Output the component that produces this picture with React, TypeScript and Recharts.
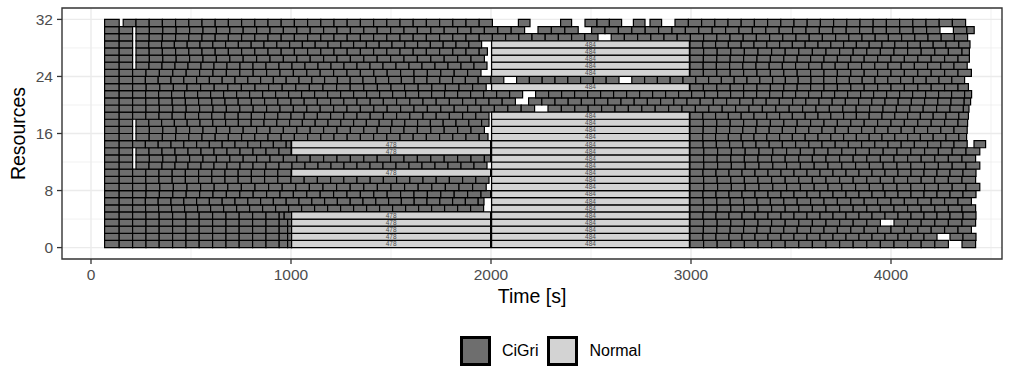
import React from 'react';
import { ComposedChart, XAxis, YAxis, CartesianGrid, ReferenceArea, Legend, Scatter } from 'recharts';

const FONT = '"Liberation Sans", Arial, sans-serif';
const CIGRI_FILL = '#6e6e6e';
const NORMAL_FILL = '#d3d3d3';

const xTicks = [0, 1000, 2000, 3000, 4000];
const xMinor = [500, 1500, 2500, 3500, 4500];
const yTicks = [0, 8, 16, 24, 32];
const yMinor = [4, 12, 20, 28];
const xDomain = [-145, 4555];
const yDomain = [-1.6, 33.6];

// CiGri jobs, one entry per resource (0 = bottom row).
// Each block lists consecutive job boundaries in seconds; a break between blocks is an idle gap.
const cigriRows: number[][][] = [
  [[68,141,208,275,341,408,475,541,608,675,741,808,875,941,983,1003],[2995,3063,3131,3199,3267,3335,3403,3471,3539,3607,3675,3743,3811,3879,3947,4015,4083,4151,4219,4287],[4355,4423]],
  [[68,141,208,275,341,408,475,541,608,675,741,808,875,941,983,1003],[2995,3060,3125,3190,3255,3320,3385,3450,3515,3580,3645,3710,3775,3840,3905,3970,4035,4100,4165,4230],[4295,4360,4425]],
  [[68,141,208,275,341,408,475,541,608,675,741,808,875,941,983,1003],[2995,3062,3129,3196,3263,3330,3397,3464,3531,3598,3665,3732,3799,3866,3933,4000,4067,4134,4201,4268,4335,4402]],
  [[68,141,208,275,341,408,475,541,608,675,741,808,875,941,983,1003],[2995,3063,3131,3199,3267,3335,3403,3471,3539,3607,3675,3743,3811,3879,3947],[4015,4083,4151,4219,4287,4355,4423]],
  [[68,141,208,275,341,408,475,541,608,675,741,808,875,941,966,1003],[2995,3060,3125,3190,3255,3320,3385,3450,3515,3580,3645,3710,3775,3840,3905,3970,4035,4100,4165,4230,4295,4360,4425]],
  [[68,141,208,273,338,403,468,533,598,663,728,793,858,923,988,1053,1118,1183,1248,1313,1378,1443,1508,1573,1638,1703,1768,1833,1898,1963],[2995,3063,3131,3199,3267,3335,3403,3471,3539,3607,3675,3743,3811,3879,3947,4015,4083,4151,4219,4287,4355,4423]],
  [[68,141,208,272,336,400,464,528,592,656,720,784,848,912,976,1040,1104,1168,1232,1296,1360,1424,1488,1552,1616,1680,1744,1808,1872,1936,1965],[2995,3062,3129,3196,3263,3330,3397,3464,3531,3598,3665,3732,3799,3866,3933,4000,4067,4134,4201,4268,4335,4402]],
  [[68,141,208,275,342,409,476,543,610,677,744,811,878,945,1012,1079,1146,1213,1280,1347,1414,1481,1548,1615,1682,1749,1816,1883,1950,1998],[2995,3060,3125,3190,3255,3320,3385,3450,3515,3580,3645,3710,3775,3840,3905,3970,4035,4100,4165,4230,4295,4360,4425]],
  [[68,141,208,276,344,412,480,548,616,684,752,820,888,956,1024,1092,1160,1228,1296,1364,1432,1500,1568,1636,1704,1772,1840,1908,1976],[2995,3064,3133,3202,3271,3340,3409,3478,3547,3616,3685,3754,3823,3892,3961,4030,4099,4168,4237,4306,4375,4444]],
  [[68,141,208,274,340,406,472,538,604,670,736,802,868,934,1000,1066,1132,1198,1264,1330,1396,1462,1528,1594,1660,1726,1792,1858,1924,1990],[2995,3063,3131,3199,3267,3335,3403,3471,3539,3607,3675,3743,3811,3879,3947,4015,4083,4151,4219,4287,4355,4423]],
  [[68,141,208,274,340,406,472,538,604,670,736,802,868,934,1000],[2995,3060,3125,3190,3255,3320,3385,3450,3515,3580,3645,3710,3775,3840,3905,3970,4035,4100,4165,4230,4295,4360,4425]],
  [[68,141,208],[225,290,355,420,485,550,615,680,745,810,875,940,1005,1070,1135,1200,1265,1330,1395,1460,1525,1590,1655,1720,1785,1850,1915,1980],[2995,3064,3133,3202,3271,3340,3409,3478,3547,3616,3685,3754,3823,3892,3961,4030,4099,4168,4237,4306,4375,4444]],
  [[68,141,208],[225,292,359,426,493,560,627,694,761,828,895,962,1029,1096,1163,1230,1297,1364,1431,1498,1565,1632,1699,1766,1833,1900,1967,1998],[2995,3063,3131,3199,3267,3335,3403,3471,3539,3607,3675,3743,3811,3879,3947,4015,4083,4151,4219,4287,4355,4423]],
  [[68,141,208],[225,290,355,420,485,550,615,680,745,810,875,940,1000],[2995,3064,3133,3202,3271,3340,3409,3478,3547,3616,3685,3754,3823,3892,3961,4030,4099,4168,4237,4306,4375,4444]],
  [[68,141,208,272,336,400,464,528,592,656,720,784,848,912,976,1000],[2995,3061,3127,3193,3259,3325,3391,3457,3523,3589,3655,3721,3787,3853,3919,3985,4051,4117,4183,4249,4315,4381],[4415,4473]],
  [[68,141,208],[225,291,357,423,489,555,621,687,753,819,885,951,1017,1083,1149,1215,1281,1347,1413,1479,1545,1611,1677,1743,1809,1875,1941,1985],[2995,3059,3123,3187,3251,3315,3379,3443,3507,3571,3635,3699,3763,3827,3891,3955,4019,4083,4147,4211,4275,4339,4378]],
  [[68,141,208],[225,292,359,426,493,560,627,694,761,828,895,962,1029,1096,1163,1230,1297,1364,1431,1498,1565,1632,1699,1766,1833,1900,1967],[2995,3061,3127,3193,3259,3325,3391,3457,3523,3589,3655,3721,3787,3853,3919,3985,4051,4117,4183,4249,4315,4381]],
  [[68,141,208],[225,289,353,417,481,545,609,673,737,801,865,929,993,1057,1121,1185,1249,1313,1377,1441,1505,1569,1633,1697,1761,1825,1889,1953,1990],[2995,3062,3129,3196,3263,3330,3397,3464,3531,3598,3665,3732,3799,3866,3933,4000,4067,4134,4201,4268,4335,4383]],
  [[68,141,208,274,340,406,472,538,604,670,736,802,868,934,1000,1066,1132,1198,1264,1330,1396,1462,1528,1594,1660,1726,1792,1858,1924,1990],[2995,3059,3123,3187,3251,3315,3379,3443,3507,3571,3635,3699,3763,3827,3891,3955,4019,4083,4147,4211,4275,4339,4387]],
  [[68,141,208,275,342,409,476,543,610,677,744,811,878,945,1012,1079,1146,1213,1280,1347,1414,1481,1548,1615,1682,1749,1816,1883,1950,2017,2084,2151,2218],[2285,2352,2419,2486,2553,2620,2687,2754,2821,2888,2955,3022,3089,3156,3223,3290,3357,3424,3491,3558,3625,3692,3759,3826,3893,3960,4027,4094,4161,4228,4295,4362,4390]],
  [[68,141,208,274,340,406,472,538,604,670,736,802,868,934,1000,1066,1132,1198,1264,1330,1396,1462,1528,1594,1660,1726,1792,1858,1924,1990,2056,2122],[2188,2254,2320,2386,2452,2518,2584,2650,2716,2782,2848,2914,2980,3046,3112,3178,3244,3310,3376,3442,3508,3574,3640,3706,3772,3838,3904,3970,4036,4102,4168,4234,4300,4366,4398]],
  [[68,141,208,273,338,403,468,533,598,663,728,793,858,923,988,1053,1118,1183,1248,1313,1378,1443,1508,1573,1638,1703,1768,1833,1898,1963,2028,2093,2158],[2223,2288,2353,2418,2483,2548,2613,2678,2743,2808,2873,2938,3003,3068,3133,3198,3263,3328,3393,3458,3523,3588,3653,3718,3783,3848,3913,3978,4043,4108,4173,4238,4303,4368,4403]],
  [[68,141,208,276,344,412,480,548,616,684,752,820,888,956,1024,1092,1160,1228,1296,1364,1432,1500,1568,1636,1704,1772,1840,1908,1976],[2995,3062,3129,3196,3263,3330,3397,3464,3531,3598,3665,3732,3799,3866,3933,4000,4067,4134,4201,4268,4335,4387]],
  [[68,141,208,272,336,400,464,528,592,656,720,784,848,912,976,1040,1104,1168,1232,1296,1360,1424,1488,1552,1616,1680,1744,1808,1872,1936,2000,2064],[2128,2192,2256,2320,2384,2448,2512,2576,2640],[2704,2768,2832,2896,2960,3024,3088,3152,3216,3280,3344,3408,3472,3536,3600,3664,3728,3792,3856,3920,3984,4048,4112,4176,4240,4304,4368]],
  [[68,141,208,275,342,409,476,543,610,677,744,811,878,945,1012,1079,1146,1213,1280,1347,1414,1481,1548,1615,1682,1749,1816,1883,1950],[2995,3062,3129,3196,3263,3330,3397,3464,3531,3598,3665,3732,3799,3866,3933,4000,4067,4134,4201,4268,4335,4402]],
  [[68,141,208],[225,290,355,420,485,550,615,680,745,810,875,940,1005,1070,1135,1200,1265,1330,1395,1460,1525,1590,1655,1720,1785,1850,1915,1980],[2995,3061,3127,3193,3259,3325,3391,3457,3523,3589,3655,3721,3787,3853,3919,3985,4051,4117,4183,4249,4315,4381]],
  [[68,141,208],[225,292,359,426,493,560,627,694,761,828,895,962,1029,1096,1163,1230,1297,1364,1431,1498,1565,1632,1699,1766,1833,1900,1967],[2995,3062,3129,3196,3263,3330,3397,3464,3531,3598,3665,3732,3799,3866,3933,4000,4067,4134,4201,4268,4335,4392]],
  [[68,141,208],[225,291,357,423,489,555,621,687,753,819,885,951,1017,1083,1149,1215,1281,1347,1413,1479,1545,1611,1677,1743,1809,1875,1941,1982],[2995,3063,3131,3199,3267,3335,3403,3471,3539,3607,3675,3743,3811,3879,3947,4015,4083,4151,4219,4287,4355,4392]],
  [[68,141,208],[225,289,353,417,481,545,609,673,737,801,865,929,993,1057,1121,1185,1249,1313,1377,1441,1505,1569,1633,1697,1761,1825,1889,1953],[2995,3059,3123,3187,3251,3315,3379,3443,3507,3571,3635,3699,3763,3827,3891,3955,4019,4083,4147,4211,4275,4339,4395]],
  [[68,141,208],[225,291,357,423,489,555,621,687,753,819,885,951,1017,1083,1149,1215,1281,1347,1413,1479,1545,1611,1677,1743,1809,1875,1941,2007,2073,2139,2205,2271,2337,2403,2469,2535],[2601,2667,2733,2799,2865,2931,2997,3063,3129,3195,3261,3327,3393,3459,3525,3591,3657,3723,3789,3855,3921,3987,4053,4119,4185,4251,4317,4383]],
  [[68,141,208],[225,292,359,426,493,560,627,694,761,828,895,962,1029,1096,1163,1230,1297,1364,1431,1498,1565,1632,1699,1766,1833,1900,1967,2034,2101,2168],[2235,2302,2369,2436],[2503,2570,2637,2704,2771,2838,2905,2972,3039,3106,3173,3240,3307,3374,3441,3508,3575,3642,3709,3776,3843,3910,3977,4044,4111,4178,4245],[4312,4379,4416]],
  [[68,141],[161,225,291,357,423,489,555,621,687,753,819,885,951,1017,1083,1149,1215,1281,1347,1413,1479,1545,1611,1677,1743,1809,1875,1941,2007],[2137,2195],[2348,2403],[2470,2530,2592,2653],[2712,2770],[2795,2853],[2920,2987,3053,3119,3185,3251,3317,3383,3449,3515,3581,3647,3713,3779,3845,3911,3977,4043,4109,4175,4241,4307,4373]],
];

// Normal (non-grid) jobs
const normalIds = ['478', '484'];
const normalStart = [1003, 2003];
const normalEnd = [1998, 2992];
const normalResources = [
  [0, 1, 2, 3, 4, 10, 13, 14],
  [0, 1, 2, 3, 4, 5, 6, 7, 8, 9, 10, 11, 12, 13, 14, 15, 16, 17, 18, 22, 24, 25, 26, 27, 28],
];

const legendNames = ['CiGri', 'Normal'];
const legendFills = [CIGRI_FILL, NORMAL_FILL];

const cigriJobs = cigriRows.flatMap((blocks, r) =>
  blocks.flatMap((b) => b.slice(0, -1).map((s, i) => ({ r, start: s, end: b[i + 1] })))
);

const normalJobs = normalIds.flatMap((id, k) =>
  normalResources[k].map((r) => ({ id, r, start: normalStart[k], end: normalEnd[k] }))
);

const YTitle = ({ viewBox }: any) => {
  const cx = viewBox.x + 17.5;
  const cy = viewBox.y + viewBox.height / 2;
  return (
    <text
      x={cx}
      y={cy}
      transform={`rotate(-90, ${cx}, ${cy})`}
      textAnchor="middle"
      dominantBaseline="central"
      fontSize={19.5}
      fontFamily={FONT}
      fill="#000"
    >
      Resources
    </text>
  );
};

const LegendBox = () => (
  <div style={{ display: 'flex', alignItems: 'center', paddingLeft: 460, fontFamily: FONT, fontSize: 16, color: '#000' }}>
    {legendNames.map((name, i) => (
      <div key={name} style={{ display: 'flex', alignItems: 'center', marginRight: 9 }}>
        <div style={{ width: 25, height: 24, border: '3px solid #000', background: legendFills[i] }} />
        <span style={{ marginLeft: 11 }}>{name}</span>
      </div>
    ))}
  </div>
);

export default function App() {
  return (
    <div style={{ position: 'absolute', left: 0, top: 0, width: 1023, height: 367, background: '#fff', fontFamily: FONT }}>
      <ComposedChart width={1023} height={367} margin={{ top: 8, right: 21, bottom: 0, left: 0 }}>
        <CartesianGrid stroke="#ebebeb" strokeWidth={0.7} verticalValues={xMinor} horizontalValues={yMinor} />
        <CartesianGrid stroke="#ebebeb" strokeWidth={1.4} verticalValues={xTicks} horizontalValues={yTicks} />
        <XAxis
          type="number"
          dataKey="x"
          domain={xDomain}
          ticks={xTicks}
          allowDataOverflow
          height={108}
          tickSize={5}
          tickMargin={5}
          axisLine={false}
          tickLine={{ stroke: '#333', strokeWidth: 1.3 }}
          tick={{ fill: '#4d4d4d', fontSize: 15.5, fontFamily: FONT }}
          label={{ value: 'Time [s]', position: 'insideTop', offset: 30, fill: '#000', fontSize: 19.5, fontFamily: FONT }}
        />
        <YAxis
          type="number"
          dataKey="y"
          domain={yDomain}
          ticks={yTicks}
          allowDataOverflow
          width={62}
          tickSize={5}
          tickMargin={4}
          axisLine={false}
          tickLine={{ stroke: '#333', strokeWidth: 1.3 }}
          tick={{ fill: '#4d4d4d', fontSize: 15.5, fontFamily: FONT }}
          label={{ content: (p: any) => <YTitle {...p} /> }}
        />
        <Scatter data={[]} isAnimationActive={false} />
        {cigriJobs.map((j, i) => (
          <ReferenceArea
            key={`c${i}`}
            x1={j.start}
            x2={j.end}
            y1={j.r}
            y2={j.r + 1}
            fill={CIGRI_FILL}
            fillOpacity={1}
            stroke="#000"
            strokeWidth={1.2}
            ifOverflow="visible"
          />
        ))}
        {normalJobs.map((j, i) => (
          <ReferenceArea
            key={`n${i}`}
            x1={j.start}
            x2={j.end}
            y1={j.r}
            y2={j.r + 1}
            fill={NORMAL_FILL}
            fillOpacity={1}
            stroke="#000"
            strokeWidth={1.2}
            ifOverflow="visible"
            label={{ value: j.id, position: 'center', fontSize: 6.5, fill: '#4d4d4d', fontFamily: FONT }}
          />
        ))}
        <ReferenceArea
          x1={xDomain[0]}
          x2={xDomain[1]}
          y1={yDomain[0]}
          y2={yDomain[1]}
          fill="none"
          fillOpacity={0}
          stroke="#333"
          strokeWidth={1.4}
          ifOverflow="visible"
        />
        <Legend
          layout="horizontal"
          verticalAlign="middle"
          align="center"
          wrapperStyle={{ top: 336, left: 0, width: 1023 }}
          content={() => <LegendBox />}
        />
      </ComposedChart>
    </div>
  );
}
